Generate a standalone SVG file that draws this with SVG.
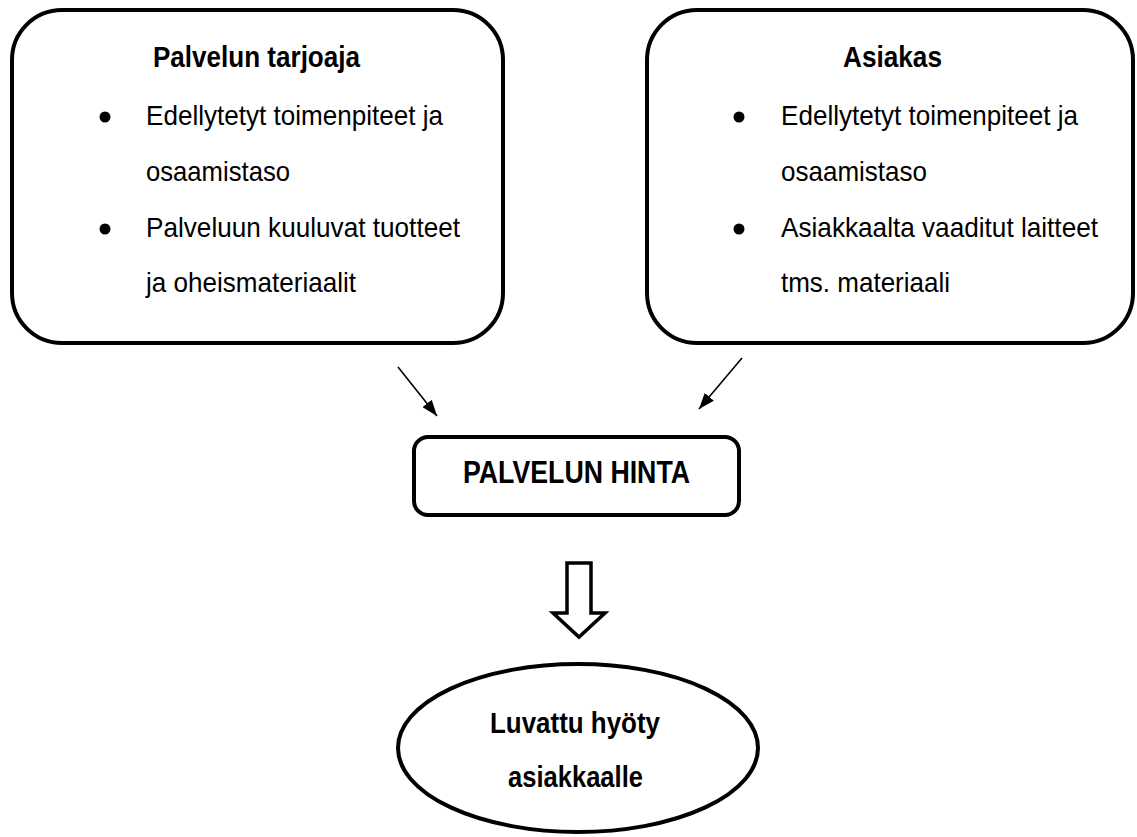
<svg xmlns="http://www.w3.org/2000/svg" width="1137" height="837" viewBox="0 0 1137 837">
<style>
text{font-family:"Liberation Sans Narrow","Liberation Sans",Arial,sans-serif;fill:#000}
.h{font-weight:bold;font-size:29px}
.b{font-size:28px}
.box{fill:#fff;stroke:#000;stroke-width:4}
.dot{fill:#000}
.conn{stroke:#000;stroke-width:1.6;fill:none}
</style>
<defs>
<marker id="ah2" viewBox="0 0 16 12" refX="16" refY="6" markerWidth="16" markerHeight="12" markerUnits="userSpaceOnUse" orient="auto">
<path d="M0,0 L16,6 L0,12 z" fill="#000"/>
</marker>
</defs>
<rect width="1137" height="837" fill="#fff"/>
<g id="provider">
<rect class="box" x="12" y="10" width="491" height="333" rx="50" ry="50"/>
<text class="h" x="153" y="67" textLength="207" lengthAdjust="spacingAndGlyphs">Palvelun tarjoaja</text>
<circle class="dot" cx="105" cy="117" r="5.5"/>
<text class="b" x="146" y="125" textLength="297" lengthAdjust="spacingAndGlyphs">Edellytetyt toimenpiteet ja</text>
<text class="b" x="146" y="181" textLength="144" lengthAdjust="spacingAndGlyphs">osaamistaso</text>
<circle class="dot" cx="105" cy="229" r="5.5"/>
<text class="b" x="146" y="237" textLength="314" lengthAdjust="spacingAndGlyphs">Palveluun kuuluvat tuotteet</text>
<text class="b" x="146" y="292" textLength="210" lengthAdjust="spacingAndGlyphs">ja oheismateriaalit</text>
</g>
<g id="customer">
<rect class="box" x="647" y="10" width="486" height="333" rx="50" ry="50"/>
<text class="h" x="843" y="67" textLength="99" lengthAdjust="spacingAndGlyphs">Asiakas</text>
<circle class="dot" cx="739" cy="117" r="5.5"/>
<text class="b" x="781" y="125" textLength="297" lengthAdjust="spacingAndGlyphs">Edellytetyt toimenpiteet ja</text>
<text class="b" x="781" y="181" textLength="146" lengthAdjust="spacingAndGlyphs">osaamistaso</text>
<circle class="dot" cx="739" cy="229" r="5.5"/>
<text class="b" x="781" y="237" textLength="317" lengthAdjust="spacingAndGlyphs">Asiakkaalta vaaditut laitteet</text>
<text class="b" x="781" y="292" textLength="169" lengthAdjust="spacingAndGlyphs">tms. materiaali</text>
</g>
<g id="price">
<rect class="box" x="414" y="437" width="325" height="78" rx="14" ry="14"/>
<text class="h" x="463" y="483" style="font-size:32px" textLength="227" lengthAdjust="spacingAndGlyphs">PALVELUN HINTA</text>
</g>
<g id="benefit">
<ellipse class="box" cx="578" cy="748" rx="180" ry="84"/>
<text class="h" x="490" y="733" style="font-size:30px" textLength="170" lengthAdjust="spacingAndGlyphs">Luvattu hyöty</text>
<text class="h" x="508" y="787" style="font-size:30px" textLength="135" lengthAdjust="spacingAndGlyphs">asiakkaalle</text>
</g>
<g id="connectors">
<line class="conn" x1="398" y1="367" x2="437" y2="416" marker-end="url(#ah2)"/>
<line class="conn" x1="742" y1="358" x2="699" y2="409" marker-end="url(#ah2)"/>
<polygon points="567,563 591,563 591,613 605,613 579,637 553,613 567,613" fill="#fff" stroke="#000" stroke-width="3.5" stroke-linejoin="miter"/>
</g>
</svg>
